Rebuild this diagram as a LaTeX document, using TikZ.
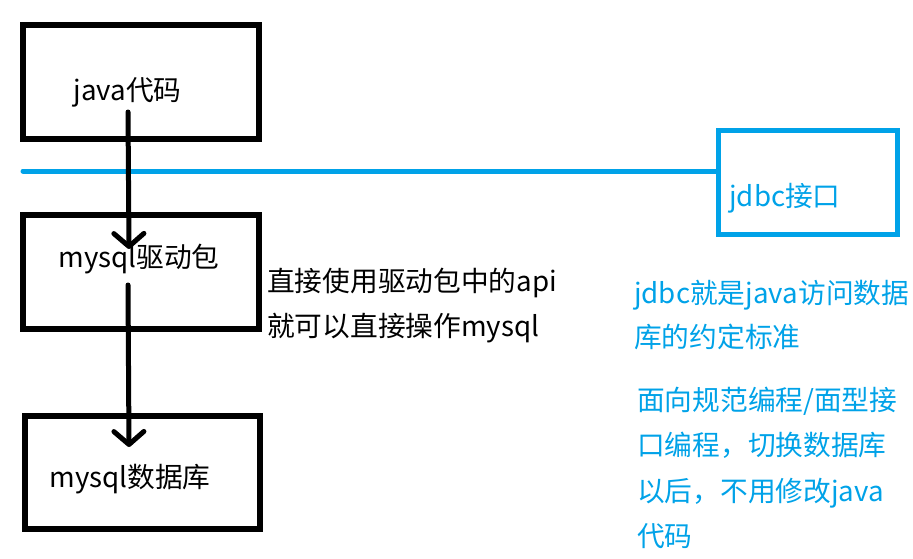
\documentclass[tikz,border=0pt]{standalone}
\usepackage{fontspec}
\setmainfont{Noto Sans CJK SC}
\usetikzlibrary{arrows.meta}
\definecolor{jblue}{RGB}{0,162,232}
\tikzset{
  blackbox/.style={draw=black, line width=6pt, inner sep=0pt},
  bluebox/.style={draw=jblue, line width=5pt, inner sep=0pt},
  lbl/.style={inner sep=0pt, font=\fontsize{27.7}{33}\selectfont},
  bl/.style={lbl, anchor=base west},
  bbl/.style={lbl, anchor=base west, text=jblue},
  flow/.style={draw=black, line width=5pt, line cap=round, -{Straight Barb[length=13pt,width=30pt,round]}},
}
\begin{document}
\begin{tikzpicture}[x=1pt,y=-1pt]
\useasboundingbox (0,0) rectangle (913,558);
% boxes
\node[blackbox, minimum width=236pt, minimum height=114pt] (javabox) at (141,82) {};
\node[blackbox, minimum width=236pt, minimum height=114pt] (drvbox) at (141,272) {};
\node[blackbox, minimum width=235pt, minimum height=113pt] (dbbox) at (142.5,472.5) {};
\node[bluebox, minimum width=179pt, minimum height=104pt] (jdbcbox) at (807.5,182) {};
% interface line
\coordinate (lineL) at (23,171);
\draw[jblue, line width=5pt, line cap=round] (lineL) -- (jdbcbox.west |- lineL);
% box texts
\node[lbl, anchor=base] (javatxt) at (127.5,100) {java代码};
\node[lbl, anchor=base] (drvtxt) at (139,267) {mysql驱动包};
\node[lbl, anchor=base] (dbtxt) at (130,487) {mysql数据库};
\node[bbl] (jdbctxt) at (729,206) {jdbc接口};
% arrows
\coordinate (a1s) at (128,112);
\coordinate (a1e) at (129,249);
\coordinate (a2s) at (128,285);
\coordinate (a2e) at (129,447);
\draw[flow] (a1s) -- (a1e);
\draw[flow] (a2s) -- (a2e);
% notes
\node[bl] (n1a) at (267,291) {直接使用驱动包中的api};
\node[bl] (n1b) at (267,336) {就可以直接操作mysql};
\node[bbl] (n2a) at (634,303) {jdbc就是java访问数据};
\node[bbl] (n2b) at (634,347) {库的约定标准};
\node[bbl] (n3a) at (637,410) {面向规范编程/面型接};
\node[bbl] (n3b) at (637,455) {口编程，切换数据库};
\node[bbl] (n3c) at (637,501) {以后，不用修改java};
\node[bbl] (n3d) at (637,546) {代码};
\end{tikzpicture}
\end{document}
